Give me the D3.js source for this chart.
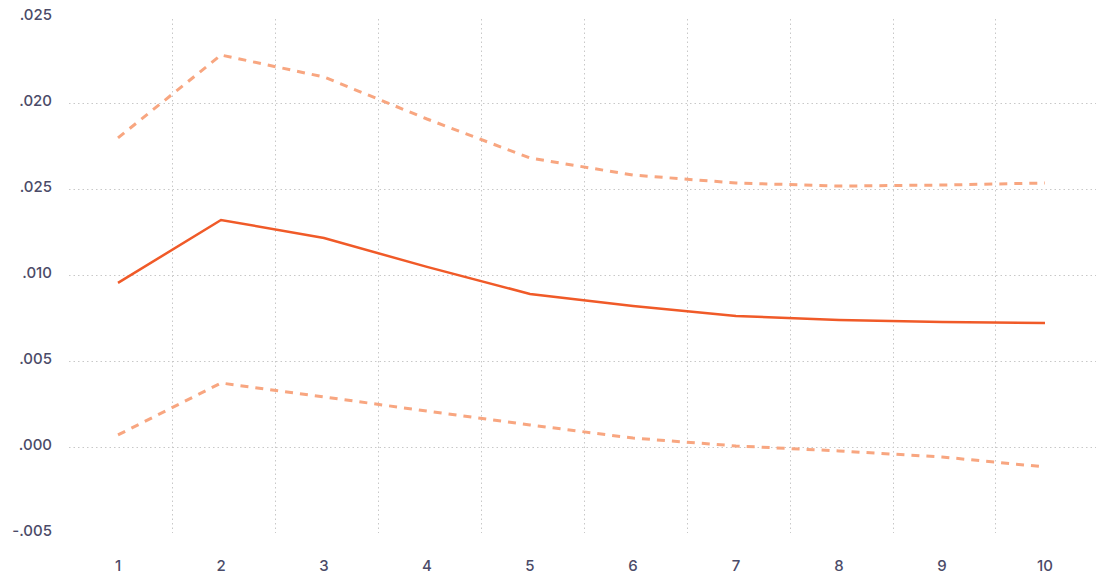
<!DOCTYPE html>
<html>
<head>
<meta charset="utf-8">
<script src="https://cdn.jsdelivr.net/npm/d3@7/dist/d3.min.js"></script>
<style>
  html, body { margin: 0; padding: 0; background: #fff; }
  svg { display: block; }
  .tick-label { font-family: Inter, "Noto Sans", sans-serif; font-size: 15px; font-weight: 500; fill: #4b4b68; }
</style>
</head>
<body>
<svg id="chart" width="1096" height="581"></svg>
<script>
// Periods on the horizontal axis
const periods = [1, 2, 3, 4, 5, 6, 7, 8, 9, 10];

// Point estimate and confidence bounds per period
const estimate = [0.00954, 0.01320, 0.01215, 0.01047, 0.00890, 0.00820, 0.00762, 0.00738, 0.00727, 0.00721];
const upperBound = [0.01797, 0.02279, 0.02151, 0.01907, 0.01680, 0.01581, 0.01535, 0.01517, 0.01523, 0.01535];
const lowerBound = [0.00070, 0.00372, 0.00291, 0.00209, 0.00128, 0.00052, 0.00006, -0.00023, -0.00058, -0.00116];

// Y-axis tick values and their printed labels
const yTicks = [0.025, 0.020, 0.015, 0.010, 0.005, 0.000, -0.005];
const yTickLabels = [".025", ".020", ".025", ".010", ".005", ".000", "-.005"];

const svg = d3.select("#chart");

const x = d3.scaleLinear().domain([1, 10]).range([118, 1045]);
const y = d3.scaleLinear().domain([-0.005, 0.025]).range([533, 17]);

const gridColor = "#c8c8c8";
const gridLeft = 69, gridRight = 1096;

// Horizontal dotted gridlines (inner ticks only)
svg.append("g")
  .selectAll("line")
  .data(yTicks.filter(v => v < 0.025 && v > -0.005))
  .join("line")
  .attr("x1", gridLeft).attr("x2", gridRight)
  .attr("y1", d => Math.round(y(d)) + 0.5)
  .attr("y2", d => Math.round(y(d)) + 0.5)
  .attr("stroke", gridColor)
  .attr("stroke-width", 1)
  .attr("stroke-dasharray", "1.5 3");

// Vertical dotted gridlines between periods
const stepPx = x(2) - x(1);
svg.append("g")
  .selectAll("line")
  .data(periods.slice(0, -1))
  .join("line")
  .attr("x1", d => Math.round(x(d) + stepPx / 2 + 2) + 0.5)
  .attr("x2", d => Math.round(x(d) + stepPx / 2 + 2) + 0.5)
  .attr("y1", 19).attr("y2", 533)
  .attr("stroke", gridColor)
  .attr("stroke-width", 1)
  .attr("stroke-dasharray", "1.5 3");

// Y-axis labels
svg.append("g")
  .selectAll("text")
  .data(yTicks)
  .join("text")
  .attr("class", "tick-label")
  .attr("x", 52)
  .attr("y", d => y(d) + 3)
  .attr("text-anchor", "end")
  .text((d, i) => yTickLabels[i]);

// X-axis labels
svg.append("g")
  .selectAll("text")
  .data(periods)
  .join("text")
  .attr("class", "tick-label")
  .attr("x", d => x(d))
  .attr("y", 571)
  .attr("text-anchor", "middle")
  .text(d => d);

const line = d3.line()
  .x((d, i) => x(periods[i]))
  .y(d => y(d));

// Confidence bounds
[upperBound, lowerBound].forEach(series => {
  svg.append("path")
    .datum(series)
    .attr("d", line)
    .attr("fill", "none")
    .attr("stroke", "#f8a680")
    .attr("stroke-width", 3)
    .attr("stroke-dasharray", "8 7");
});

// Point estimate
svg.append("path")
  .datum(estimate)
  .attr("d", line)
  .attr("fill", "none")
  .attr("stroke", "#f05a28")
  .attr("stroke-width", 2.5);
</script>
</body>
</html>
